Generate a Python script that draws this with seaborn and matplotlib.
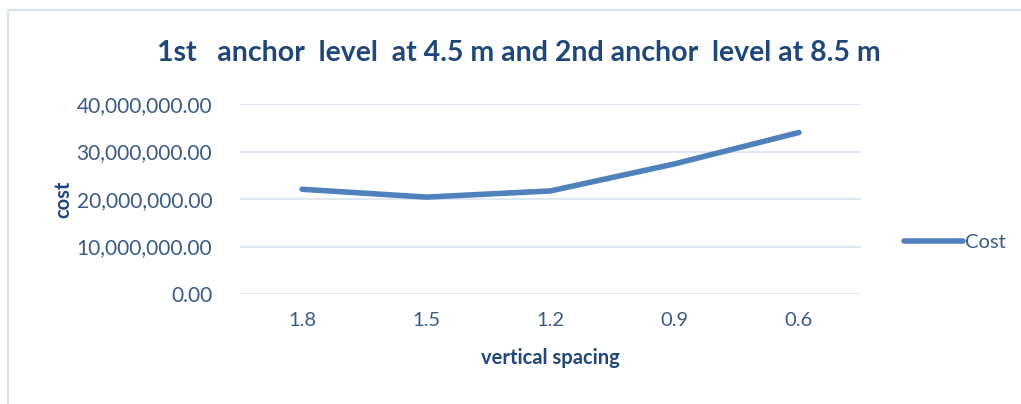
import matplotlib
matplotlib.use("Agg")
import matplotlib.pyplot as plt
import seaborn as sns
import pandas as pd
from matplotlib.patches import Rectangle
from matplotlib.ticker import FuncFormatter

# values
spacing = ["1.8", "1.5", "1.2", "0.9", "0.6"]
cost = [22_050_000, 20_400_000, 21_700_000, 27_400_000, 34_000_000]

df = pd.DataFrame({"vertical spacing": spacing, "Cost": cost})

sns.set_style("white")
plt.rcParams['font.family'] = ['Lato', 'DejaVu Sans']

text_col = "#3A5A86"
title_col = "#1F477A"
line_col = "#4F81BD"
grid_col = "#D9E3F1"

fig = plt.figure(figsize=(10.21, 4.04), dpi=100)
ax = fig.add_axes([240 / 1021, 110 / 404, 621 / 1021, 190 / 404])

sns.lineplot(data=df, x="vertical spacing", y="Cost", sort=False,
             color=line_col, linewidth=4.0, ax=ax, label="Cost",
             solid_capstyle="round", solid_joinstyle="round")

ax.set_ylim(0, 40_000_000)
ax.set_xlim(-0.5, len(spacing) - 0.5)
ax.set_yticks([0, 10_000_000, 20_000_000, 30_000_000, 40_000_000])
ax.yaxis.set_major_formatter(FuncFormatter(lambda v, p: f"{v:,.2f}"))
ax.grid(axis="y", color=grid_col, linewidth=1.2)
ax.set_axisbelow(True)
for s in ax.spines.values():
    s.set_visible(False)
ax.tick_params(axis="both", length=0, labelsize=15, labelcolor=text_col)
ax.tick_params(axis="y", pad=20)
ax.tick_params(axis="x", labelsize=14.5, pad=13)

ax.set_xlabel("vertical spacing", fontsize=14.5, fontweight="bold",
              color=title_col, labelpad=14)
ax.set_ylabel("cost", fontsize=14.5, fontweight="bold", color=title_col,
              labelpad=2)

fig.suptitle("1st   anchor  level  at 4.5 m and 2nd anchor  level at 8.5 m",
             x=0.508, y=0.90, fontsize=20.5, fontweight="bold", color=title_col)

ax.get_legend().remove()
h, l = ax.get_legend_handles_labels()
leg = fig.legend(h, l, loc="center left", bbox_to_anchor=(0.868, 0.4),
                 frameon=False, fontsize=14.5, handlelength=2.9,
                 handletextpad=0.1)
for t in leg.get_texts():
    t.set_color(text_col)

# chart area border like the spreadsheet frame
fig.add_artist(Rectangle((8 / 1021, -0.05), 1.2, 1 - 10 / 404 + 0.05,
                         transform=fig.transFigure, fill=False,
                         edgecolor="#D6E1F2", linewidth=1.5))

fig.savefig("out.png", dpi=100)
